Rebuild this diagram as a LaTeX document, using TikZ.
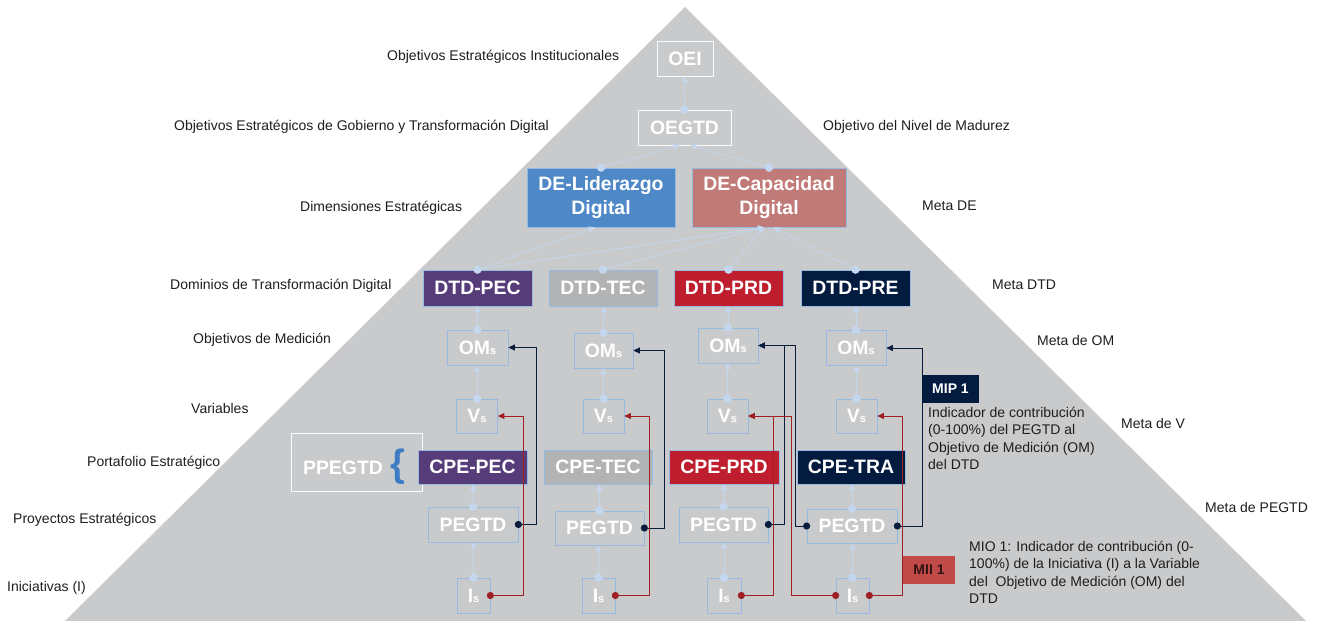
\documentclass[tikz,border=0pt]{standalone}
\usepackage{fontspec}
\setmainfont{Liberation Sans}
\usetikzlibrary{arrows.meta,calc}
\definecolor{tri}{RGB}{201,202,204}
\definecolor{lbl}{RGB}{30,30,30}
\definecolor{bline}{RGB}{150,186,226}
\definecolor{lconn}{RGB}{196,215,239}
\definecolor{navyc}{RGB}{10,28,60}
\definecolor{redc}{RGB}{158,32,36}
\definecolor{cblue}{RGB}{79,136,198}
\definecolor{crose}{RGB}{192,122,120}
\definecolor{cpurple}{RGB}{86,61,122}
\definecolor{cgray}{RGB}{178,179,181}
\definecolor{cred}{RGB}{190,30,45}
\definecolor{cnavy}{RGB}{2,27,62}
\definecolor{miic}{RGB}{192,74,72}
\definecolor{miitext}{RGB}{50,20,20}
\definecolor{bracec}{RGB}{61,124,196}
\newcommand\bxfont{\fontsize{19.4}{24}\selectfont\bfseries}
\newcommand\lbfont{\fontsize{14}{17.3}\selectfont}
\newcommand\smfont{\fontsize{11}{11}\selectfont}
\begin{document}
\begin{tikzpicture}[x=1pt,y=-1pt,
  bbox/.style={draw=bline,line width=0.7pt,text=white,font=\bxfont,inner sep=0pt,align=center},
  lab/.style={text=lbl,font=\lbfont,inner sep=0pt,anchor=west,text height=10pt,text depth=3pt},
  para/.style={text=lbl,font=\lbfont,inner sep=0pt,anchor=north west,align=left},
  upc/.style={draw=lconn,line width=0.8pt,-{Triangle[length=6pt,width=6pt]}},
  navyline/.style={draw=navyc,line width=0.9pt,-{Triangle[length=6.5pt,width=6pt]}},
  redline/.style={draw=redc,line width=0.9pt,-{Triangle[length=6.5pt,width=6pt]}},
]
\useasboundingbox (0,0) rectangle (1325,621);
\fill[white] (0,0) rectangle (1325,621);
\fill[tri] (685,7) -- (1306,621) -- (65,621) -- cycle;

% top boxes
\node[bbox,draw=white!90!lconn,minimum width=56pt,minimum height=35pt] (oei) at (685,58.5) {OEI};
\node[bbox,draw=white!90!lconn,minimum width=93pt,minimum height=35pt] (oegtd) at (684.5,127.5) {OEGTD};
\node[bbox,fill=cblue,minimum width=148pt,minimum height=59pt] (delid) at (601,197.5) {DE-Liderazgo\\Digital};
\node[bbox,fill=crose,minimum width=154pt,minimum height=59pt] (decap) at (769,197.5) {DE-Capacidad\\Digital};

% DTD row
\node[bbox,fill=cpurple,minimum width=109pt,minimum height=36pt] (dtd1) at (477.5,288) {DTD-PEC};
\node[bbox,fill=cgray,minimum width=108pt,minimum height=36pt] (dtd2) at (603,288) {DTD-TEC};
\node[bbox,fill=cred,minimum width=109pt,minimum height=36pt] (dtd3) at (728.5,288) {DTD-PRD};
\node[bbox,fill=cnavy,minimum width=109pt,minimum height=36pt] (dtd4) at (855.5,288) {DTD-PRE};

% OMs row
\node[bbox,minimum width=61pt,minimum height=35pt] (om1) at (477.5,347.5) {OM{\smfont s}};
\node[bbox,minimum width=59pt,minimum height=35pt] (om2) at (603.5,350.5) {OM{\smfont s}};
\node[bbox,minimum width=60pt,minimum height=35pt] (om3) at (728,345.5) {OM{\smfont s}};
\node[bbox,minimum width=60pt,minimum height=35pt] (om4) at (856,348) {OM{\smfont s}};

% Vs row
\node[bbox,minimum width=41pt,minimum height=34pt] (vs1) at (477,416) {V{\smfont s}};
\node[bbox,minimum width=41pt,minimum height=34pt] (vs2) at (603.5,416) {V{\smfont s}};
\node[bbox,minimum width=41pt,minimum height=34pt] (vs3) at (727.5,416) {V{\smfont s}};
\node[bbox,minimum width=41pt,minimum height=34pt] (vs4) at (856.5,416) {V{\smfont s}};

% portfolio
\node[bbox,draw=white!90!lconn,minimum width=131pt,minimum height=58pt] (ppbox) at (356.5,462) {};
\node[text=white,font=\bxfont,inner sep=0pt] (pp) at (343,468) {PPEGTD};
\node[text=bracec,font=\fontsize{38}{38}\selectfont\bfseries,inner sep=0pt] (brc) at (398,467) {\{};

% CPE row
\node[bbox,fill=cpurple,minimum width=109pt,minimum height=34pt] (cpe1) at (472.5,467) {CPE-PEC};
\node[bbox,fill=cgray,minimum width=108pt,minimum height=34pt] (cpe2) at (598,467) {CPE-TEC};
\node[bbox,fill=cred,minimum width=110pt,minimum height=34pt] (cpe3) at (724,467) {CPE-PRD};
\node[bbox,fill=cnavy,minimum width=108pt,minimum height=34pt] (cpe4) at (851,467) {CPE-TRA};

% PEGTD row
\node[bbox,minimum width=90pt,minimum height=35pt] (pg1) at (473,524.5) {PEGTD};
\node[bbox,minimum width=89pt,minimum height=34pt] (pg2) at (599.5,528) {PEGTD};
\node[bbox,minimum width=89pt,minimum height=35pt] (pg3) at (723.5,524.5) {PEGTD};
\node[bbox,minimum width=90pt,minimum height=34pt] (pg4) at (852,526) {PEGTD};

% Is row
\node[bbox,minimum width=33pt,minimum height=35pt] (is1) at (473.5,595.5) {I{\smfont s}};
\node[bbox,minimum width=33pt,minimum height=35pt] (is2) at (598.5,595.5) {I{\smfont s}};
\node[bbox,minimum width=34pt,minimum height=35pt] (is3) at (724,595.5) {I{\smfont s}};
\node[bbox,minimum width=33pt,minimum height=35pt] (is4) at (852.5,595.5) {I{\smfont s}};

% light blue connectors
\draw[upc] (oegtd.north) -- (oei.south);
\draw[upc] (delid.north) -- ($(oegtd.south)+(-5,0)$);
\draw[upc] (decap.north) -- ($(oegtd.south)+(6,0)$);
\draw[upc] (dtd1.north) -- ($(delid.south)+(-6,0)$);
\draw[upc] (dtd1.north) -- ($(decap.south)+(-5,0)$);
\draw[upc] (dtd2.north) -- ($(decap.south)+(-5,0)$);
\draw[upc] (dtd3.north) -- ($(decap.south)+(-5,0)$);
\draw[upc] (dtd4.north) -- ($(decap.south)+(4,0)$);
\foreach \c in {1,2,3,4}{
  \draw[upc] (om\c.north) -- (om\c.north |- dtd\c.south);
  \draw[upc] (vs\c.north) -- (vs\c.north |- om\c.south);
  \draw[upc] (pg\c.north) -- (pg\c.north |- cpe\c.south);
  \draw[upc] (is\c.north) -- (is\c.north |- pg\c.south);
  \fill[lconn] (dtd\c.north) circle (4.2pt);
  \fill[lconn] (om\c.north) circle (4.2pt);
  \fill[lconn] (vs\c.north) circle (4.2pt);
  \fill[lconn] (pg\c.north) circle (4.2pt);
  \fill[lconn] (is\c.north) circle (4.2pt);
}
\fill[lconn] (oegtd.north) circle (4.2pt);
\fill[lconn] (delid.north) circle (4.2pt);
\fill[lconn] (decap.north) circle (4.2pt);

% navy connectors (PEGTD -> OMs)
\draw[navyline] (pg1.east) -- ++(18,0) |- (om1.east);
\draw[navyline] (pg2.east) -- ++(20,0) |- (om2.east);
\draw[navyline] (pg3.east) -- ++(16,0) |- (om3.east);
\draw[navyline] (pg4.west) -- ++(-11,0) |- (om3.east);
\draw[navyline] (pg4.east) -- ++(25,0) |- (om4.east);
% red connectors (Is -> Vs)
\draw[redline] (is1.east) -- ++(33,0) |- (vs1.east);
\draw[redline] (is2.east) -- ++(34,0) |- (vs2.east);
\draw[redline] (is3.east) -- ++(32,0) |- (vs3.east);
\draw[redline] (is4.west) -- ++(-44,0) |- (vs3.east);
\draw[redline] (is4.east) -- ++(33,0) |- (vs4.east);
\foreach \n in {pg1.east,pg2.east,pg3.east,pg4.west,pg4.east}{\fill[navyc] (\n) circle (3.6pt);}
\foreach \n in {is1.east,is2.east,is3.east,is4.west,is4.east}{\fill[redc] (\n) circle (3.6pt);}

% indicator boxes and texts
\node[fill=cnavy,text=white,font=\lbfont\bfseries,minimum width=57pt,minimum height=28pt,inner sep=0pt] (mip) at (950.5,389) {MIP 1};
\node[para] (mipt) at (928,407) {Indicador de contribución\\(0-100\%) del PEGTD al\\Objetivo de Medición (OM)\\del DTD};
\node[fill=miic,text=miitext,font=\lbfont\bfseries,minimum width=52pt,minimum height=28pt,inner sep=0pt] (mii) at (929,570) {MII 1};
\node[para] (miot) at (969,541) {MIO 1: Indicador de contribución (0-\\100\%) de la Iniciativa (I) a la Variable\\del\ \ Objetivo de Medición (OM) del\\DTD};

% left labels
\node[lab] (l1) at (387,57) {Objetivos Estratégicos Institucionales};
\node[lab] (l2) at (174,127) {Objetivos Estratégicos de Gobierno y Transformación Digital};
\node[lab] (l3) at (300,208) {Dimensiones Estratégicas};
\node[lab] (l4) at (170,286) {Dominios de Transformación Digital};
\node[lab] (l5) at (193,340) {Objetivos de Medición};
\node[lab] (l6) at (191,410) {Variables};
\node[lab] (l7) at (87,463) {Portafolio Estratégico};
\node[lab] (l8) at (13,520) {Proyectos Estratégicos};
\node[lab] (l9) at (7,588) {Iniciativas (I)};
% right labels
\node[lab] (r1) at (823,127) {Objetivo del Nivel de Madurez};
\node[lab] (r2) at (922,207) {Meta DE};
\node[lab] (r3) at (992,286) {Meta DTD};
\node[lab] (r4) at (1037,342) {Meta de OM};
\node[lab] (r5) at (1121,425) {Meta de V};
\node[lab] (r6) at (1205,509) {Meta de PEGTD};
\end{tikzpicture}
\end{document}
